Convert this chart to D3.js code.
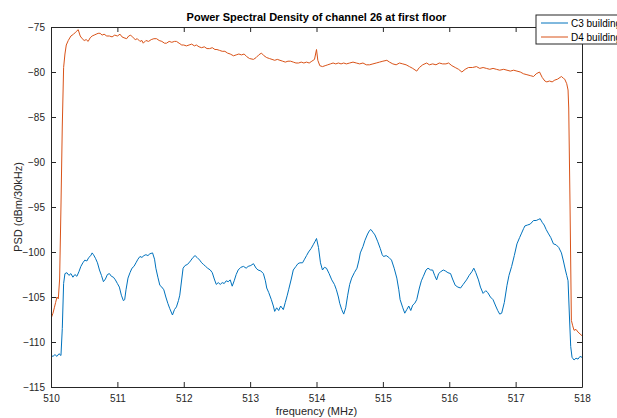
<!DOCTYPE html>
<html><head><meta charset="utf-8">
<script src="https://cdn.jsdelivr.net/npm/d3@7"></script>
<style>
html,body{margin:0;padding:0;background:#fff;overflow:hidden}
svg{display:block;font-family:"Liberation Sans",Arial,Helvetica,sans-serif}
</style></head><body>
<svg id="chart" width="617" height="418"></svg>
<script>
const titleText = "Power Spectral Density of channel 26 at first floor";
const xLabel = "frequency (MHz)";
const yLabel = "PSD (dBm/30kHz)";
const seriesNames = ["C3 building", "D4 building"];
const xTicks = [510, 511, 512, 513, 514, 515, 516, 517, 518];
const yTicks = [-75, -80, -85, -90, -95, -100, -105, -110, -115];

const c3Freq = [510.00,510.03,510.06,510.09,510.12,510.15,510.17,510.19,510.21,510.24,510.27,510.30,510.33,510.36,510.39,510.42,510.45,510.48,510.51,510.54,510.57,510.60,510.62,510.64,510.67,510.70,510.73,510.76,510.79,510.82,510.85,510.88,510.91,510.94,510.97,511.00,511.03,511.06,511.09,511.11,511.13,511.16,511.19,511.22,511.25,511.28,511.31,511.34,511.37,511.40,511.43,511.46,511.49,511.53,511.56,511.58,511.61,511.64,511.67,511.70,511.73,511.76,511.79,511.83,511.86,511.89,511.92,511.94,511.97,511.99,512.02,512.05,512.08,512.11,512.14,512.17,512.20,512.24,512.27,512.30,512.33,512.36,512.40,512.43,512.46,512.49,512.52,512.55,512.58,512.61,512.64,512.67,512.70,512.73,512.76,512.79,512.82,512.86,512.90,512.94,512.97,513.01,513.05,513.09,513.12,513.16,513.20,513.23,513.25,513.28,513.32,513.35,513.37,513.40,513.43,513.46,513.50,513.53,513.56,513.58,513.62,513.65,513.69,513.72,513.75,513.79,513.82,513.85,513.88,513.92,513.95,513.98,514.00,514.03,514.06,514.09,514.12,514.15,514.19,514.23,514.27,514.30,514.33,514.35,514.38,514.41,514.44,514.47,514.50,514.53,514.57,514.61,514.64,514.66,514.70,514.73,514.77,514.80,514.82,514.85,514.88,514.92,514.96,514.99,515.01,515.05,515.09,515.13,515.17,515.21,515.24,515.26,515.30,515.33,515.36,515.39,515.42,515.45,515.48,515.51,515.55,515.58,515.61,515.65,515.68,515.72,515.75,515.78,515.81,515.84,515.87,515.91,515.94,515.98,516.02,516.05,516.09,516.13,516.17,516.21,516.26,516.30,516.34,516.37,516.40,516.44,516.47,516.51,516.55,516.58,516.62,516.66,516.70,516.73,516.76,516.79,516.83,516.87,516.90,516.94,516.98,517.02,517.06,517.09,517.12,517.14,517.18,517.22,517.27,517.31,517.34,517.37,517.40,517.43,517.46,517.49,517.53,517.57,517.61,517.65,517.69,517.72,517.75,517.77,517.79,517.81,517.83,517.85,517.88,517.91,517.94,517.97,518.00];
const c3Psd = [-111.5,-111.6,-111.4,-111.6,-111.3,-111.5,-108.5,-103.5,-102.4,-102.3,-102.6,-102.4,-102.8,-102.5,-102.7,-102.2,-101.6,-101.2,-100.9,-101.0,-100.6,-100.4,-100.1,-100.3,-100.7,-101.2,-102.0,-102.6,-103.3,-103.0,-102.5,-102.4,-102.7,-102.8,-103.1,-103.5,-103.9,-104.8,-105.4,-105.3,-104.2,-102.9,-102.3,-101.8,-101.6,-101.2,-100.8,-100.5,-100.6,-100.4,-100.3,-100.4,-100.2,-100.1,-100.8,-101.8,-102.8,-103.7,-103.9,-104.2,-105.0,-105.7,-106.3,-107.0,-106.4,-106.1,-105.4,-104.8,-103.0,-101.8,-101.5,-101.4,-101.2,-100.9,-100.6,-100.4,-100.6,-100.9,-101.2,-101.4,-101.6,-101.8,-102.0,-102.3,-103.0,-103.6,-103.4,-103.6,-103.4,-103.5,-103.2,-103.3,-103.1,-103.8,-103.2,-102.5,-102.0,-101.7,-101.6,-101.8,-101.6,-101.5,-101.3,-101.8,-102.0,-102.1,-102.4,-103.2,-104.0,-104.5,-105.3,-106.0,-106.6,-106.2,-106.5,-106.0,-106.4,-105.6,-104.8,-104.2,-103.0,-102.0,-101.6,-101.3,-101.2,-101.2,-100.8,-100.4,-100.0,-99.6,-99.2,-98.8,-98.5,-99.5,-101.2,-102.0,-101.7,-101.8,-102.4,-103.1,-103.6,-104.2,-105.0,-105.7,-106.4,-106.9,-106.2,-104.8,-103.6,-102.9,-102.3,-101.8,-100.9,-100.1,-99.4,-98.7,-98.0,-97.6,-97.5,-97.8,-98.1,-98.8,-99.6,-100.3,-100.5,-100.4,-100.6,-100.9,-101.8,-102.9,-104.2,-105.3,-106.2,-106.8,-106.4,-106.0,-106.5,-105.9,-105.7,-105.3,-104.0,-103.2,-102.7,-102.0,-101.8,-102.0,-102.0,-102.6,-103.1,-102.4,-102.2,-102.0,-102.1,-102.3,-102.4,-103.0,-103.7,-103.9,-104.0,-103.6,-103.1,-102.6,-102.2,-101.8,-102.3,-103.1,-103.9,-104.6,-104.3,-104.5,-105.0,-105.3,-106.0,-106.5,-106.9,-106.8,-105.6,-103.7,-102.6,-101.6,-100.4,-99.1,-98.4,-97.9,-97.4,-97.1,-97.0,-96.9,-96.5,-96.5,-96.4,-96.3,-96.7,-97.0,-97.5,-97.9,-98.4,-99.1,-99.2,-99.5,-100.1,-101.0,-102.0,-102.6,-103.2,-107.0,-110.5,-111.7,-112.0,-111.8,-111.9,-111.6,-111.7];

const d4Freq = [510.00,510.03,510.05,510.07,510.09,510.11,510.13,510.15,510.17,510.19,510.21,510.23,510.26,510.30,510.34,510.38,510.41,510.44,510.47,510.50,510.53,510.56,510.59,510.62,510.65,510.68,510.71,510.74,510.77,510.80,510.84,510.88,510.92,510.96,511.00,511.04,511.07,511.10,511.14,511.17,511.20,511.24,511.27,511.30,511.34,511.37,511.39,511.43,511.47,511.51,511.55,511.59,511.63,511.67,511.71,511.74,511.78,511.82,511.86,511.89,511.93,511.97,512.00,512.04,512.08,512.12,512.16,512.19,512.23,512.27,512.31,512.35,512.39,512.43,512.47,512.50,512.54,512.58,512.62,512.66,512.70,512.75,512.79,512.83,512.87,512.91,512.95,512.99,513.05,513.09,513.13,513.17,513.21,513.25,513.29,513.33,513.37,513.41,513.45,513.49,513.53,513.57,513.61,513.65,513.69,513.73,513.77,513.81,513.85,513.89,513.93,513.97,514.00,514.02,514.05,514.09,514.13,514.17,514.21,514.25,514.29,514.33,514.37,514.41,514.45,514.50,514.55,514.60,514.65,514.70,514.75,514.80,514.85,514.90,514.95,515.00,515.06,515.10,515.15,515.20,515.25,515.30,515.35,515.40,515.45,515.51,515.55,515.60,515.66,515.70,515.75,515.80,515.85,515.90,515.95,515.99,516.04,516.09,516.14,516.19,516.24,516.29,516.35,516.41,516.46,516.51,516.56,516.61,516.66,516.71,516.76,516.82,516.87,516.92,516.97,517.02,517.07,517.12,517.17,517.22,517.27,517.31,517.36,517.40,517.44,517.47,517.51,517.55,517.59,517.63,517.67,517.69,517.72,517.74,517.77,517.79,517.80,517.82,517.84,517.86,517.88,517.91,517.94,517.97,518.00];
const d4Psd = [-107.4,-106.8,-106.2,-105.6,-105.0,-105.2,-103.0,-95.0,-86.0,-79.5,-78.0,-77.0,-76.5,-76.0,-75.8,-75.5,-75.3,-76.0,-76.3,-76.5,-76.4,-76.6,-76.2,-76.0,-75.9,-75.8,-75.7,-75.7,-75.9,-75.8,-76.0,-76.0,-76.1,-75.9,-76.0,-75.8,-76.1,-76.2,-76.3,-76.0,-75.9,-76.2,-76.4,-76.3,-76.6,-76.5,-76.8,-76.5,-76.6,-76.4,-76.3,-76.3,-76.5,-76.6,-76.8,-76.8,-76.6,-76.7,-76.6,-76.6,-76.8,-77.0,-77.0,-77.1,-77.0,-76.9,-77.1,-77.0,-77.2,-77.3,-77.2,-77.4,-77.4,-77.3,-77.5,-77.5,-77.6,-77.7,-77.7,-77.9,-78.0,-78.2,-78.1,-78.0,-78.1,-78.0,-78.3,-78.5,-78.6,-78.4,-78.1,-77.9,-78.2,-78.4,-78.5,-78.6,-78.7,-78.6,-78.7,-78.8,-78.9,-78.8,-78.8,-78.9,-79.0,-79.0,-78.9,-79.0,-78.9,-79.0,-78.8,-78.6,-77.5,-78.7,-79.3,-79.4,-79.3,-79.2,-79.1,-79.0,-79.1,-79.0,-79.1,-79.0,-79.1,-79.0,-78.9,-79.0,-79.1,-79.0,-79.2,-79.2,-79.1,-79.0,-78.9,-78.8,-78.7,-78.9,-79.1,-79.2,-79.0,-79.1,-79.2,-79.4,-79.6,-79.9,-79.5,-79.2,-79.0,-79.2,-79.1,-79.2,-79.0,-79.1,-79.1,-79.0,-79.3,-79.5,-79.7,-80.0,-79.7,-79.5,-79.5,-79.4,-79.6,-79.5,-79.6,-79.7,-79.6,-79.7,-79.8,-79.7,-79.8,-79.9,-79.8,-79.9,-80.0,-80.2,-80.3,-80.4,-80.5,-80.2,-80.0,-80.6,-81.0,-81.1,-81.0,-81.1,-80.9,-80.8,-80.6,-80.5,-80.7,-80.8,-81.3,-82.0,-84.0,-95.0,-107.6,-108.2,-108.7,-108.6,-108.9,-109.1,-109.3];

const colors = ["#0072BD", "#D95319"];
const axisColor = "#262626";

const svg = d3.select("#chart");
const W = 617, H = 418;
const m = {left: 51, right: 35, top: 27, bottom: 31};
const iw = W - m.left - m.right, ih = H - m.top - m.bottom;

const x = d3.scaleLinear().domain([510, 518]).range([m.left, m.left + iw]);
const y = d3.scaleLinear().domain([-115, -75]).range([m.top + ih, m.top]);

const g = svg.append("g");

// data lines, clipped to axes
svg.append("clipPath").attr("id","clip").append("rect")
  .attr("x", m.left).attr("y", m.top).attr("width", iw).attr("height", ih);

const line = d3.line().x(d => x(d[0])).y(d => y(d[1]));
const series = [
  d3.zip(c3Freq, c3Psd),
  d3.zip(d4Freq, d4Psd)
];
series.forEach((s, i) => {
  g.append("path").datum(s).attr("clip-path","url(#clip)")
    .attr("fill","none").attr("stroke", colors[i]).attr("stroke-width", 1)
    .attr("stroke-linejoin","round").attr("d", line);
});

// axes (MATLAB style, ticks inward, box)
const tickLen = 5;
const fontSize = 10;
const xAxisB = d3.axisBottom(x).tickValues(xTicks).tickSizeInner(-tickLen).tickSizeOuter(0).tickPadding(8).tickFormat(d3.format("d"));
const xAxisT = d3.axisTop(x).tickValues(xTicks).tickSizeInner(-tickLen).tickSizeOuter(0).tickFormat("");
const yAxisL = d3.axisLeft(y).tickValues(yTicks).tickSizeInner(-tickLen).tickSizeOuter(0).tickPadding(6).tickFormat(d3.format("d"));
const yAxisR = d3.axisRight(y).tickValues(yTicks).tickSizeInner(-tickLen).tickSizeOuter(0).tickFormat("");

function style(sel){
  sel.select(".domain").attr("stroke", axisColor).attr("stroke-width", 1);
  sel.selectAll(".tick line").attr("stroke", axisColor).attr("stroke-width", 1);
  sel.selectAll(".tick text").attr("fill", axisColor).style("font-size", fontSize + "px")
    .style("font-family", '"Liberation Sans", Arial, sans-serif');
}
g.append("g").attr("transform", `translate(0,${m.top + ih})`).call(xAxisB).call(style);
g.append("g").attr("transform", `translate(0,${m.top})`).call(xAxisT).call(style);
g.append("g").attr("transform", `translate(${m.left},0)`).call(yAxisL).call(style);
g.append("g").attr("transform", `translate(${m.left + iw},0)`).call(yAxisR).call(style);

// title & labels
svg.append("text").attr("x", m.left + iw/2).attr("y", 21).attr("text-anchor","middle")
  .style("font-size","11px").style("font-weight","bold").attr("fill","#000").text(titleText);
svg.append("text").attr("x", m.left + iw/2).attr("y", 415).attr("text-anchor","middle")
  .style("font-size","11px").attr("fill", axisColor).text(xLabel);
svg.append("text").attr("transform", `translate(22,${m.top + ih/2}) rotate(-90)`).attr("text-anchor","middle")
  .style("font-size","11px").attr("fill", axisColor).text(yLabel);

// legend
const lg = svg.append("g").attr("transform", "translate(536,15)");
lg.append("rect").attr("x",0).attr("y",0).attr("width",95).attr("height",29)
  .attr("fill","#fff").attr("stroke", axisColor).attr("stroke-width",1);
seriesNames.forEach((n, i) => {
  const yy = 8 + i * 14;
  lg.append("line").attr("x1", 5).attr("x2", 32).attr("y1", yy).attr("y2", yy)
    .attr("stroke", colors[i]).attr("stroke-width", 1);
  lg.append("text").attr("x", 35).attr("y", yy + 3.5).style("font-size","10px")
    .attr("fill","#000").text(n);
});
</script>
</body></html>
